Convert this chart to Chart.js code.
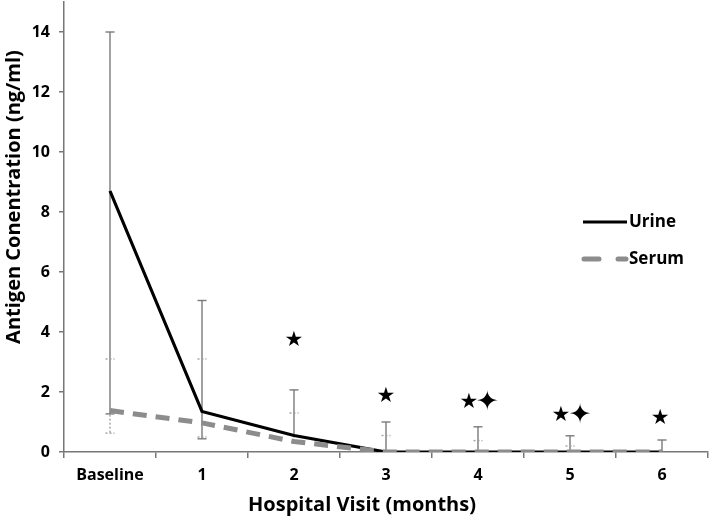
<!DOCTYPE html>
<html><head><meta charset="utf-8">
<script src="https://cdn.jsdelivr.net/npm/chart.js@4.4.0/dist/chart.umd.min.js"></script>
<style>html,body{margin:0;padding:0;background:#fff}#wrap{width:709px;height:518px}</style>
</head><body><div id="wrap"><canvas id="c" width="709" height="518"></canvas></div>
<script>
const categories = ['Baseline','1','2','3','4','5','6'];
const urine = [8.7, 1.35, 0.55, 0, 0, 0, 0];
const serum = [1.38, 0.97, 0.35, 0, 0, 0, 0];
const urineHigh = [14.0, 5.05, 2.07, 1.0, 0.84, 0.54, 0.4];
const urineLow = [1.27, 0.44, null, null, null, null, null];
const serumHigh = [3.1, 3.1, 1.3, 0.55, 0.38, 0.2, null];
const serumLow = [0.63, 0.5, null, null, null, null, null];
const yTicks = [0, 2, 4, 6, 8, 10, 12, 14];
const xTitle = 'Hospital Visit (months)';
const yTitle = 'Antigen Conentration (ng/ml)';
// significance markers: category index, y value, symbol, x shift in category units
const markCat = [2, 3, 4, 4, 5, 5, 6];
const markY = [3.73, 1.85, 1.65, 1.65, 1.2, 1.2, 1.12];
const markSym = ['★','★','★','✦','★','✦','★'];
const markShift = [0, 0, -0.1, 0.1, -0.1, 0.11, -0.02];

const FONT = '"Open Sans"';

const errPlugin = {
  id: 'err',
  beforeDatasetsDraw(chart) {
    const ctx = chart.ctx, xs = chart.scales.x, ys = chart.scales.y;
    function bar(i, hi, lo, dotted, color) {
      const x = xs.getPixelForValue(i);
      ctx.save();
      ctx.strokeStyle = color; ctx.lineWidth = 1.4;
      if (dotted) ctx.setLineDash([2, 2]);
      const base = dotted ? serum[i] : urine[i];
      const yb = ys.getPixelForValue(base);
      if (hi != null) {
        const yh = ys.getPixelForValue(hi);
        ctx.beginPath(); ctx.moveTo(x, yb); ctx.lineTo(x, yh); ctx.stroke();
        ctx.beginPath(); ctx.moveTo(x - 4.5, yh); ctx.lineTo(x + 4.5, yh); ctx.stroke();
      }
      if (lo != null) {
        const yl = ys.getPixelForValue(lo);
        ctx.beginPath(); ctx.moveTo(x, yb); ctx.lineTo(x, yl); ctx.stroke();
        ctx.beginPath(); ctx.moveTo(x - 4.5, yl); ctx.lineTo(x + 4.5, yl); ctx.stroke();
      }
      ctx.restore();
    }
    for (let i = 0; i < categories.length; i++) {
      bar(i, urineHigh[i], urineLow[i], false, '#7a7a7a');
      bar(i, serumHigh[i], serumLow[i], true, '#a0a0a0');
    }
  },
  afterDatasetsDraw(chart) {
    const ctx = chart.ctx, xs = chart.scales.x, ys = chart.scales.y;
    const w = xs.getPixelForValue(1) - xs.getPixelForValue(0);
    ctx.save();
    ctx.fillStyle = '#000'; ctx.textAlign = 'center'; ctx.textBaseline = 'middle';
    for (let k = 0; k < markCat.length; k++) {
      const x = xs.getPixelForValue(markCat[k]) + markShift[k] * w;
      const y = ys.getPixelForValue(markY[k]);
      ctx.font = markSym[k] === '★' ? '21px "DejaVu Sans"' : '27px "DejaVu Sans"';
      ctx.fillText(markSym[k], x, y);
    }
    // axis titles
    ctx.font = 'bold 20px ' + FONT;
    ctx.fillText(xTitle, 362, 505);
    ctx.save();
    ctx.translate(14, 197); ctx.rotate(-Math.PI / 2);
    ctx.fillText(yTitle, 0, 0);
    ctx.restore();
    // legend
    ctx.lineCap = 'butt';
    ctx.strokeStyle = '#000'; ctx.lineWidth = 3;
    ctx.beginPath(); ctx.moveTo(583, 222); ctx.lineTo(627, 222); ctx.stroke();
    ctx.strokeStyle = '#8c8c8c'; ctx.lineWidth = 5; ctx.lineCap = 'round';
    ctx.beginPath(); ctx.moveTo(584, 259); ctx.lineTo(599, 259); ctx.stroke();
    ctx.beginPath(); ctx.moveTo(618, 259); ctx.lineTo(626, 259); ctx.stroke();
    ctx.fillStyle = '#000'; ctx.textAlign = 'left';
    ctx.font = 'bold 17px ' + FONT;
    ctx.fillText(chart.data.datasets[0].label, 629, 222);
    ctx.fillText(chart.data.datasets[1].label, 629, 259);
    ctx.restore();
  }
};

new Chart(document.getElementById('c'), {
  type: 'line',
  data: {
    labels: categories,
    datasets: [
      { label: 'Urine', data: urine, borderColor: '#000', borderWidth: 3.2, pointRadius: 0, tension: 0, order: 2 },
      { label: 'Serum', data: serum, borderColor: '#8c8c8c', borderWidth: 5, borderDash: [14, 9], pointRadius: 0, tension: 0, order: 1 }
    ]
  },
  options: {
    responsive: false, animation: false,
    layout: { padding: { top: 2, right: 1, left: 0, bottom: 0 } },
    plugins: { legend: { display: false }, tooltip: { enabled: false } },
    scales: {
      x: {
        offset: true,
        grid: { offset: true, drawOnChartArea: false, drawTicks: true, tickLength: 6, color: '#777', lineWidth: 1.5 },
        border: { color: '#777', width: 1.5 },
        ticks: { color: '#000', font: { family: FONT, weight: 'bold', size: 16 }, padding: 8, maxRotation: 0 },
        title: { display: false },
        afterFit(s) { s.height = 66; s.paddingLeft = 0; s.paddingRight = 0; }
      },
      y: {
        min: 0, max: 15,
        afterBuildTicks(s) { s.ticks = yTicks.map(v => ({ value: v })); },
        grid: { drawOnChartArea: false, drawTicks: true, tickLength: 5, color: '#777', lineWidth: 1.5 },
        border: { color: '#777', width: 1.5 },
        ticks: { color: '#000', font: { family: FONT, weight: 'bold', size: 16 }, padding: 9 },
        title: { display: false },
        afterFit(s) { s.width = 64; s.paddingTop = 0; s.paddingBottom = 0; }
      }
    }
  },
  plugins: [errPlugin]
});
</script></body></html>
